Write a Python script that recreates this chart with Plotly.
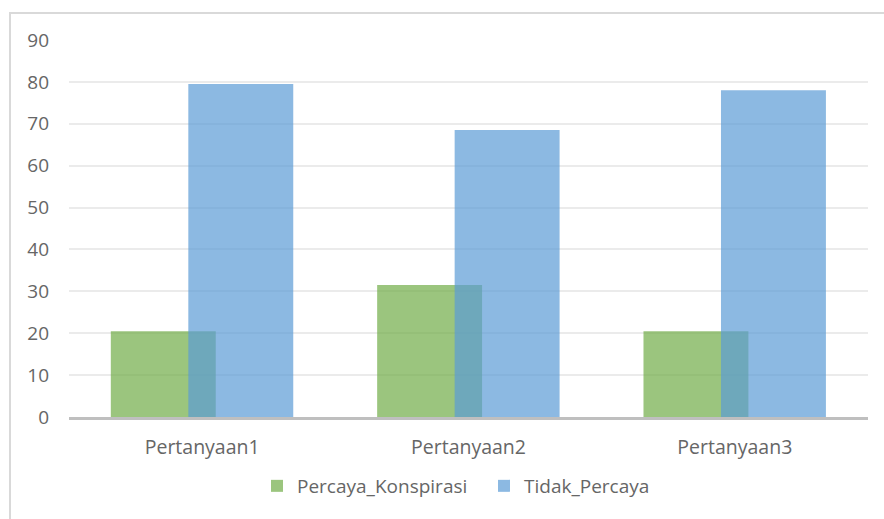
import plotly.graph_objects as go

# Survey answers per question (percent of respondents)
questions = ["Pertanyaan1", "Pertanyaan2", "Pertanyaan3"]
percaya_konspirasi = [20.5, 31.5, 20.5]
tidak_percaya = [79.5, 68.5, 78.0]
y_ticks = [0, 10, 20, 30, 40, 50, 60, 70, 80, 90]

W, H = 884, 519
M_L, M_R, M_T, M_B = 69, 16, 40, 102

font_family = "Open Sans, Segoe UI, DejaVu Sans, sans-serif"
text_gray = "#666666"

bar_w = 0.394
fig = go.Figure()
fig.add_trace(go.Bar(
    name="Percaya_Konspirasi", x=questions, y=percaya_konspirasi,
    width=bar_w, offset=-0.343,
    marker=dict(color="rgba(112,173,71,0.7)", line=dict(width=0)),
))
fig.add_trace(go.Bar(
    name="Tidak_Percaya", x=questions, y=tidak_percaya,
    width=bar_w, offset=-0.052,
    marker=dict(color="rgba(91,155,213,0.7)", line=dict(width=0)),
))

# outer chart frame (light gray border running off the right/bottom edges)
pw = W - M_L - M_R
ph = H - M_T - M_B
def px_x(p):
    return (p - M_L) / pw
def px_y(p):
    return 1 - (p - M_T) / ph

fig.add_shape(
    type="rect", xref="paper", yref="paper", layer="below",
    x0=px_x(10), x1=px_x(W + 20), y0=px_y(H + 20), y1=px_y(13),
    line=dict(color="#D9D9D9", width=2), fillcolor="rgba(0,0,0,0)",
)

fig.update_layout(
    width=W, height=H,
    margin=dict(l=M_L, r=M_R, t=M_T, b=M_B, pad=0),
    paper_bgcolor="white", plot_bgcolor="white",
    barmode="overlay",
    font=dict(family=font_family, size=19, color=text_gray),
    showlegend=True,
    legend=dict(
        orientation="h", x=px_x(257), xanchor="left", y=px_y(486), yanchor="middle",
        font=dict(size=19, color=text_gray), itemwidth=30,
        entrywidth=182, entrywidthmode="pixels",
        traceorder="normal",
    ),
    xaxis=dict(
        type="category", range=[-0.5, 2.5],
        showline=True, linecolor="#BFBFBF", linewidth=3,
        showgrid=False, ticks="", ticklabelstandoff=11,
        tickfont=dict(size=19.5),
    ),
    yaxis=dict(
        range=[0, 90], tickvals=y_ticks, ticktext=[str(v) for v in y_ticks],
        showgrid=True, gridcolor="#EBEBEB", gridwidth=1.5,
        zeroline=False, showline=False, ticks="",
        ticklabelstandoff=19, tickfont=dict(size=19),
    ),
)

fig.write_html("out.html")
